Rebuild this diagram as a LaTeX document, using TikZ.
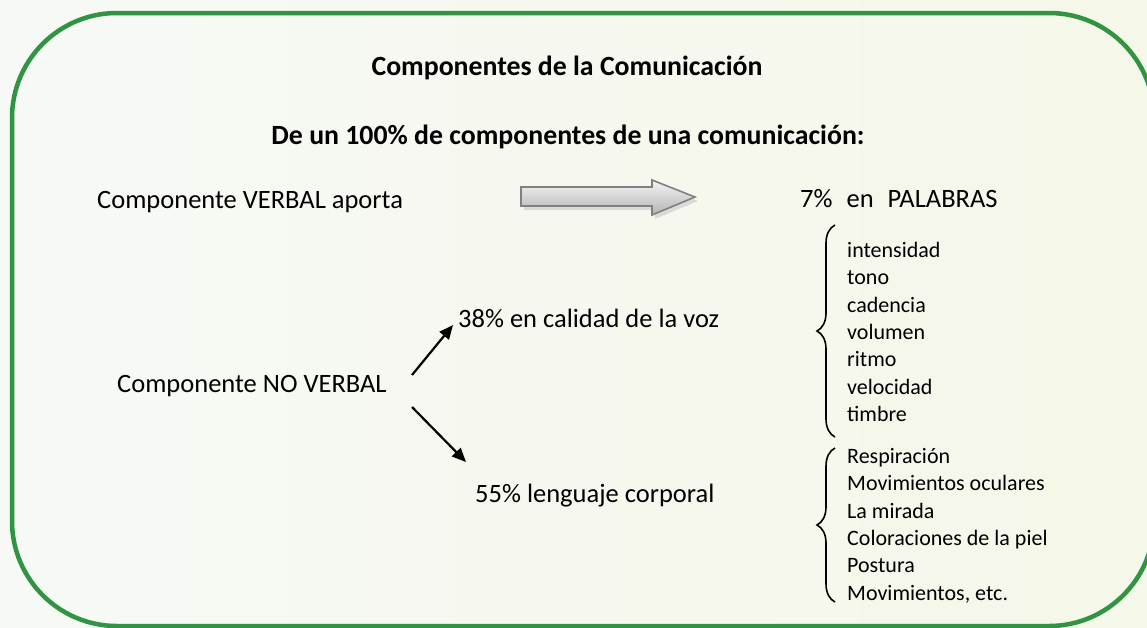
\documentclass[tikz,border=0pt]{standalone}
\usepackage{fontspec}
\setmainfont{Carlito}
\usetikzlibrary{positioning, arrows.meta, decorations.pathreplacing, shadows}

\definecolor{marcoverde}{RGB}{48,148,66}
\definecolor{fondoA}{RGB}{247,249,246}
\definecolor{fondoB}{RGB}{245,247,232}

\begin{document}
\begin{tikzpicture}[x=1pt,y=-1pt,node distance=27.3pt,on grid,
  texto/.style={inner sep=0pt, font=\fontsize{26.5}{32}\selectfont},
  negrita/.style={inner sep=0pt, font=\fontsize{27.8}{32}\selectfont\bfseries},
  item/.style={inner sep=0pt, anchor=west, text height=16pt, text depth=5pt,
    font=\fontsize{22}{27}\selectfont},
  llave/.style={decorate, decoration={brace, amplitude=18pt}, line width=1.6pt},
  flecha/.style={-{Triangle[length=14pt,width=12pt]}, line width=2.2pt}]

  % fondo y marco
  \useasboundingbox (0,0) rectangle (1147,627);
  \shade[left color=fondoA, right color=fondoB] (0,0) rectangle (1147,627);
  \draw[marcoverde, line width=4.5pt, rounded corners=105pt] (12,13) rectangle (1154,626);

  % titulos
  \node[negrita, anchor=base] (tit) at (567,75) {Componentes de la Comunicación};
  \node[negrita, anchor=base] (sub) at (568,144) {De un 100\% de componentes de una comunicación:};

  % parte verbal
  \node[texto, anchor=base west] (verbal) at (97,208) {Componente VERBAL aporta};
  \node[texto, anchor=base west] (pal) at (800,207) {7\%\hspace{14pt}en\hspace{14pt}PALABRAS};
  \shade[top color=gray!8, bottom color=gray!60, draw=gray, line width=1.6pt,
    drop shadow={shadow xshift=3pt, shadow yshift=-4pt, fill=gray!50, opacity=.5}]
    (521,187) -- (652,187) -- (652,180) -- (695,197) -- (652,215) -- (652,206) -- (521,206) -- cycle;

  % parte no verbal
  \node[texto, anchor=base west] (nv) at (117,392) {Componente NO VERBAL};
  \node[texto, anchor=base west] (voz) at (458,327) {38\% en calidad de la voz};
  \node[texto, anchor=base west] (corp) at (475,502) {55\% lenguaje corporal};
  \coordinate (nv1) at (412,375);
  \coordinate (voz1) at (453,325);
  \coordinate (nv2) at (412,407);
  \coordinate (corp1) at (466,462);
  \draw[flecha] (nv1) -- (voz1);
  \draw[flecha] (nv2) -- (corp1);

  % calidad de la voz
  \node[item] (int) at (847,252) {intensidad};
  \node[item] (ton) [below=of int.west, anchor=west] {tono};
  \node[item] (cad) [below=of ton.west, anchor=west] {cadencia};
  \node[item] (vol) [below=of cad.west, anchor=west] {volumen};
  \node[item] (rit) [below=of vol.west, anchor=west] {ritmo};
  \node[item] (vel) [below=of rit.west, anchor=west] {velocidad};
  \node[item] (tim) [below=of vel.west, anchor=west] {timbre};
  \coordinate (l1a) at (835,437);
  \coordinate (l1b) at (835,225);
  \draw[llave] (l1a) -- (l1b);

  % lenguaje corporal
  \node[item] (res) at (847,458) {Respiración};
  \node[item] (ocu) [below=of res.west, anchor=west] {Movimientos oculares};
  \node[item] (mir) [below=of ocu.west, anchor=west] {La mirada};
  \node[item] (pie) [below=of mir.west, anchor=west] {Coloraciones de la piel};
  \node[item] (pos) [below=of pie.west, anchor=west] {Postura};
  \node[item] (mov) [below=of pos.west, anchor=west] {Movimientos, etc.};
  \coordinate (l2a) at (835,602);
  \coordinate (l2b) at (835,448);
  \draw[llave] (l2a) -- (l2b);
\end{tikzpicture}
\end{document}
